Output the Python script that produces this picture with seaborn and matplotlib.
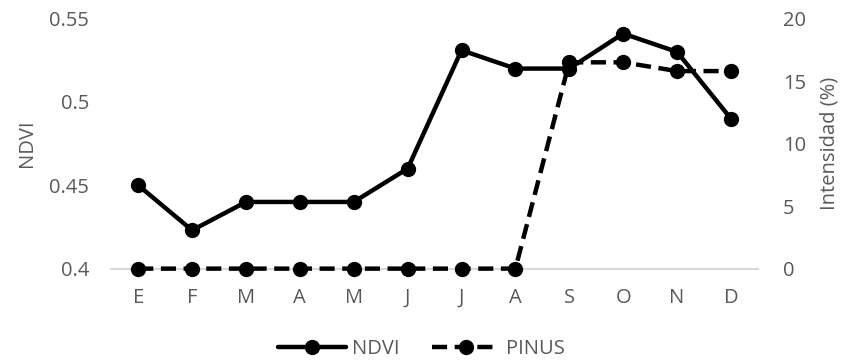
import numpy as np
import pandas as pd
import matplotlib
matplotlib.use("Agg")
import matplotlib.pyplot as plt
import seaborn as sns

# === DATA ===
months = ["E", "F", "M", "A", "M", "J", "J", "A", "S", "O", "N", "D"]
ndvi = [0.45, 0.423, 0.44, 0.44, 0.44, 0.46, 0.531, 0.52, 0.52, 0.541, 0.53, 0.49]
pinus = [0, 0, 0, 0, 0, 0, 0, 0, 16.5, 16.5, 15.8, 15.8]

df = pd.DataFrame({"pos": np.arange(len(months)), "NDVI": ndvi, "PINUS": pinus})

# === STYLE ===
sns.set_style("white")
plt.rcParams["font.family"] = ["Open Sans", "DejaVu Sans"]
grey = "#595959"
fs = 14.5

fig = plt.figure(figsize=(8.43, 3.64), dpi=100)
ax = fig.add_axes([0.132, 0.262, 0.767, 0.687])
ax2 = ax.twinx()

sns.lineplot(data=df, x="pos", y="NDVI", ax=ax, color="black", lw=3.2,
             marker="o", markersize=11, markeredgewidth=0, label="NDVI", legend=False)
sns.lineplot(data=df, x="pos", y="PINUS", ax=ax2, color="black", lw=3.2,
             marker="o", markersize=11, markeredgewidth=0, label="PINUS", legend=False)
ax2.lines[0].set_dashes([3.4, 1.7])
for ln in ax.lines + ax2.lines:
    ln.set_clip_on(False)

# axes
ax.set_xlim(-0.5, len(months) - 0.5)
ax.set_ylim(0.4, 0.55)
ax2.set_ylim(0, 20)
ax.set_xticks(df["pos"])
ax.set_xticklabels(months)
ax.set_yticks([0.4, 0.45, 0.5, 0.55])
ax.set_yticklabels(["0.4", "0.45", "0.5", "0.55"])
ax2.set_yticks([0, 5, 10, 15, 20])
ax.set_xlabel("")
ax.set_ylabel("NDVI", color=grey, fontsize=fs)
ax2.set_ylabel("Intensidad (%)", color=grey, fontsize=fs)
ax.yaxis.set_label_coords(-0.115, 0.5)
ax2.yaxis.set_label_coords(1.096, 0.5)

for a in (ax, ax2):
    for s in a.spines.values():
        s.set_visible(False)
    a.tick_params(length=0, labelsize=fs, labelcolor=grey)
ax.tick_params(axis="y", pad=16)
ax.tick_params(axis="x", pad=14)
ax2.tick_params(axis="y", pad=18)
ax.spines["bottom"].set_visible(True)
ax.spines["bottom"].set_color("#d9d9d9")
ax.spines["bottom"].set_linewidth(1.5)
ax.spines["bottom"].set_zorder(0)

# legend at bottom
h1, l1 = ax.get_legend_handles_labels()
h2, l2 = ax2.get_legend_handles_labels()
fig.legend(h1 + h2, l1 + l2, loc="center", bbox_to_anchor=(0.5, 0.04), ncol=2,
           frameon=False, handlelength=3.4, columnspacing=1.6, handletextpad=0.3,
           fontsize=fs, labelcolor=grey)

fig.savefig("out.png", dpi=100)
